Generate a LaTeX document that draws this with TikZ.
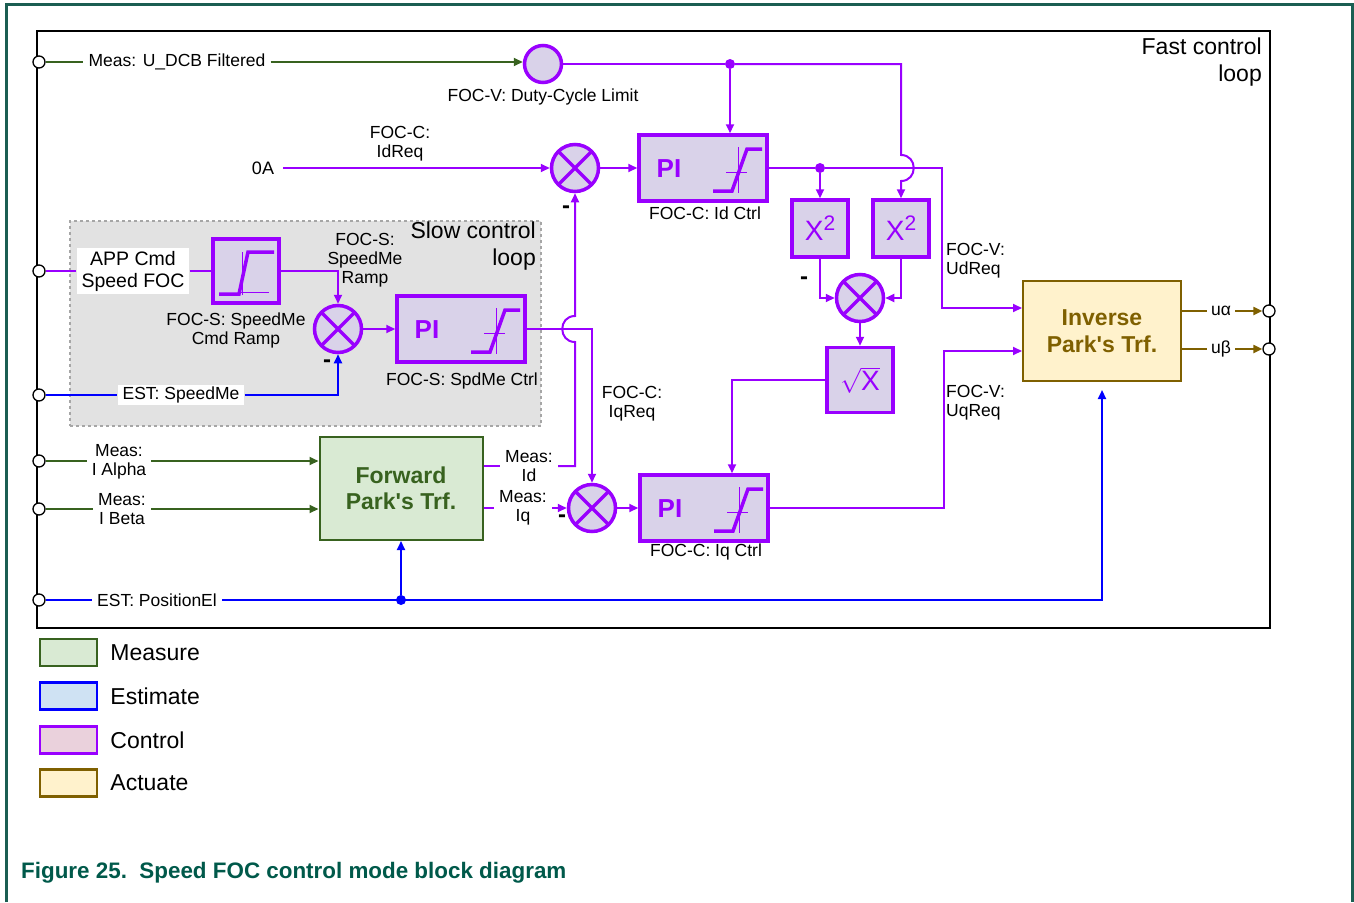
\documentclass[tikz,border=0pt]{standalone}
\usepackage{fontspec}
\setmainfont{Liberation Sans}
\newfontfamily\plainsans{Liberation Sans}
\usepackage{tikz}
\usetikzlibrary{positioning, arrows.meta, calc}

\definecolor{purp}{HTML}{9900FF}
\definecolor{lav}{HTML}{D9D2E9}
\definecolor{mgreen}{HTML}{38621F}
\definecolor{mgfill}{HTML}{D9EAD3}
\definecolor{eblue}{HTML}{0000FF}
\definecolor{ebfill}{HTML}{CFE2F3}
\definecolor{cfill}{HTML}{EAD1DC}
\definecolor{abrown}{HTML}{7F6000}
\definecolor{afill}{HTML}{FFF2CC}
\definecolor{slowgray}{HTML}{E2E2E2}
\definecolor{framet}{HTML}{1B5E52}
\definecolor{captc}{HTML}{00594A}

\newcommand\lblfont{\fontsize{17.5}{19}\selectfont}
\newcommand\appfont{\fontsize{19.5}{22}\selectfont}
\newcommand\bigfont{\fontsize{23}{26.5}\selectfont}
\newcommand\apos{{\plainsans'}}

\begin{document}
\begin{tikzpicture}[
  x=1pt, y=-1pt,
  >={Triangle[length=9pt,width=8pt]},
  lbl/.style={font=\lblfont, align=center, inner sep=3pt},
  wlbl/.style={lbl, fill=white, inner xsep=5pt, inner ysep=2pt},
  port/.style={circle, draw=black, fill=white, line width=1.3pt,
               minimum size=12pt, inner sep=0pt},
  pline/.style={draw=purp, line width=2pt},
  gline/.style={draw=mgreen, line width=2pt},
  bline/.style={draw=eblue, line width=2pt},
  aline/.style={draw=abrown, line width=2pt},
  ctrlbox/.style={draw=purp, fill=lav, line width=3.5pt, inner sep=0pt},
  multbox/.style={circle, ctrlbox, minimum size=47pt,
    path picture={\draw[purp, line width=3.5pt]
      (path picture bounding box.north west) -- (path picture bounding box.south east)
      (path picture bounding box.north east) -- (path picture bounding box.south west);}},
  pibox/.style={ctrlbox, minimum width=128pt, minimum height=66pt,
    path picture={
      \node[font=\bfseries\fontsize{26}{28}\selectfont, text=purp]
        at ($(path picture bounding box.center)+(-34,1)$) {PI};
      \begin{scope}[shift={(path picture bounding box.center)}]
        \draw[purp, line width=1pt] (35,-21) -- (35,25) (23,4) -- (44,4);
        \draw[purp, line width=3.5pt] (10,23) -- (29,23) -- (44,-19) -- (59,-19);
      \end{scope}}},
  rampbox/.style={ctrlbox, minimum width=66pt, minimum height=64pt,
    path picture={
      \begin{scope}[shift={(path picture bounding box.center)}]
        \draw[purp, line width=1pt] (-4,-19) -- (-4,24) (-7,21) -- (23,21);
        \draw[purp, line width=3.5pt] (-27,23) -- (-7,23) -- (2,-19) -- (28,-19);
      \end{scope}}},
  sqbox/.style={ctrlbox, minimum width=56pt, minimum height=57pt, text=purp,
                font=\fontsize{28}{30}\selectfont},
  apark/.style={draw=abrown, fill=afill, line width=2pt, minimum width=158pt,
                minimum height=100pt, font=\bfseries\bigfont, text=abrown, align=center},
  mpark/.style={draw=mgreen, fill=mgfill, line width=2pt, minimum width=163pt,
                minimum height=103pt, font=\bfseries\bigfont, text=mgreen, align=center},
  slowreg/.style={draw=gray!70, dashed, fill=slowgray, line width=1.5pt,
                  minimum width=471pt, minimum height=205pt},
  minus/.style={font=\bfseries\fontsize{24}{24}\selectfont, inner sep=0pt},
  pdot/.style={circle, fill=purp, inner sep=0pt, minimum size=10pt},
  bdot/.style={circle, fill=eblue, inner sep=0pt, minimum size=10pt},
  legbox/.style={line width=2.5pt, minimum width=57pt, minimum height=27pt},
  legtxt/.style={font=\bigfont, inner sep=0pt}
]
\useasboundingbox (0,0) rectangle (1354,902);
\draw[framet, line width=3pt] (6,902) -- (6,4) -- (1352,4) -- (1352,902);

% frames
\node[draw=black, line width=2pt, minimum width=1233pt, minimum height=597pt, inner sep=0pt]
  (fast) at (653.5,329.5) {};
\node[lbl, font=\bigfont, align=right, anchor=north east] (fasttxt) at (1265,35) {Fast control\\loop};
\node[slowreg] (slow) at (305.5,323.5) {};
\node[lbl, font=\bigfont, align=right, anchor=north east] (slowtxt) at (539,219) {Slow control\\loop};

% fast loop blocks
\node[port] (pU) at (39,62) {};
\node[wlbl] (lU) at (177,62) {Meas: U\_DCB Filtered};
\node[ctrlbox, circle, minimum size=37pt] (lim) at (543,64) {};
\node[lbl] (limtxt) at (543,97) {FOC-V: Duty-Cycle Limit};
\node[pdot] (dot1) at (730,64) {};
\node[lbl, font=\fontsize{18}{20}\selectfont, inner xsep=9pt] (zeroA) at (263,168) {0A};
\node[lbl] (idreqtxt) at (400,144) {FOC-C:\\IdReq};
\node[multbox] (m1) at (575,168) {};
\node[minus] (mn1) at (566,210) {-};
\node[pibox] (piid) at (703,168) {};
\node[lbl] (piidtxt) at (705,213) {FOC-C: Id Ctrl};
\node[pdot] (dot2) at (820,168) {};
\node[sqbox] (x2a) at (820,228.5) {X\raisebox{10pt}{\fontsize{21}{21}\selectfont 2}};
\node[sqbox] (x2b) at (901,228.5) {X\raisebox{10pt}{\fontsize{21}{21}\selectfont 2}};
\node[multbox] (m3) at (860,298) {};
\node[minus] (mn3) at (804,281) {-};
\node[sqbox, minimum width=66pt, minimum height=65pt] (sqrtb) at (860,380) {$\sqrt{\mbox{X}}$};
\node[lbl, align=left, anchor=west] (udtxt) at (943,261) {FOC-V:\\UdReq};
\node[lbl, align=left, anchor=west] (uqtxt) at (943,403) {FOC-V:\\UqReq};
\node[apark] (ipark) at (1102,331) {Inverse\\Park\apos s Trf.};
\node[lbl, inner xsep=4pt] (ua) at (1221,311) {uα};
\node[port] (poa) at (1269,311) {};
\node[lbl, inner xsep=4pt] (ub) at (1221,349) {uβ};
\node[port] (pob) at (1269,349) {};

% slow loop blocks
\node[port] (pApp) at (39,271) {};
\node[wlbl, font=\appfont, inner ysep=3pt] (lApp) at (133,271) {APP Cmd\\Speed FOC};
\node[rampbox] (ramp) at (246,271) {};
\node[lbl] (ramptxt) at (236,330) {FOC-S: SpeedMe\\Cmd Ramp};
\node[lbl] (srtxt) at (365,260) {FOC-S:\\SpeedMe\\Ramp};
\node[multbox] (ms) at (338,329) {};
\node[minus] (mns) at (327,364) {-};
\node[pibox] (pisp) at (461,329) {};
\node[lbl] (pisptxt) at (462,381) {FOC-S: SpdMe Ctrl};
\node[port] (pSm) at (39,395) {};
\node[wlbl] (lSm) at (181,395) {EST: SpeedMe};

% measure side
\node[port] (pIa) at (39,461) {};
\node[wlbl] (lIa) at (119,462) {Meas:\\I Alpha};
\node[port] (pIb) at (39,509) {};
\node[wlbl] (lIb) at (122,509) {Meas:\\I Beta};
\node[mpark] (fpark) at (401,488.5) {Forward\\Park\apos s Trf.};
\node[wlbl] (lId) at (529,466) {Meas:\\Id};
\node[wlbl] (lIq) at (523,508) {Meas:\\Iq};
\node[lbl] (iqreqtxt) at (632,404) {FOC-C:\\IqReq};
\node[multbox] (m2) at (592,508) {};
\node[minus] (mn2) at (562,519) {-};
\node[pibox] (piiq) at (704,508) {};
\node[lbl] (piiqtxt) at (706,552) {FOC-C: Iq Ctrl};
\node[port] (pPe) at (39,600) {};
\node[wlbl] (lPe) at (157,600) {EST: PositionEl};
\node[bdot] (bd) at (fpark.south |- lPe) {};

\coordinate (jmp1) at (m1.south |- pisp.east);
\coordinate (jmp2) at (x2b.north |- dot2);

% connectors
\draw[gline] (pU) -- (lU);
\draw[gline,->] (lU.east) -- (lU.east -| lim.west);
\draw[pline] (lim.east) -- (dot1);
\draw[pline,->] (dot1) -- (dot1 |- piid.north);
\draw[pline,->] (dot1) -- (dot1 -| x2b.north) -- ($(jmp2)+(0,-13)$)
  .. controls ($(jmp2)+(17,-13)$) and ($(jmp2)+(17,13)$) .. ($(jmp2)+(0,13)$) -- (x2b.north);
\draw[pline,->] (zeroA) -- (m1);
\draw[pline,->] (m1) -- (piid);
\draw[pline] (piid.east) -- (dot2);
\draw[pline,->] (dot2) -- (x2a);
\draw[pline,->] (dot2) -| ([xshift=-80pt,yshift=23pt]ipark.west) -- ([yshift=23pt]ipark.west);
\draw[pline,->] (x2a.south) |- (m3.west);
\draw[pline,->] (x2b.south) |- (m3.east);
\draw[pline,->] (m3) -- (sqrtb);
\draw[pline,->] (sqrtb.west) -| ([xshift=28pt]piiq.north);
\draw[pline,->] (piiq.east) -| ([xshift=-78pt,yshift=-20pt]ipark.west) -- ([yshift=-20pt]ipark.west);
\draw[aline] ([yshift=20pt]ipark.east) -- (ua);
\draw[aline,->] (ua) -- (poa);
\draw[aline] ([yshift=-18pt]ipark.east) -- (ub);
\draw[aline,->] (ub) -- (pob);

\draw[pline] (pApp) -- (lApp);
\draw[pline] (lApp) -- (ramp);
\draw[pline,->] (ramp.east) -| (ms.north);
\draw[pline,->] (ms) -- (pisp);
\draw[pline,->] (pisp.east) -| (m2.north);
\draw[bline] (pSm) -- (lSm);
\draw[bline,->] (lSm.east) -| (ms.south);

\draw[gline] (pIa) -- (pIa -| lIa.west);
\draw[gline,->] (lIa.east |- pIa) -- (pIa -| fpark.west);
\draw[gline] (pIb) -- (lIb);
\draw[gline,->] (lIb.east) -- (lIb.east -| fpark.west);
\draw[pline] (fpark.east |- lId) -- (lId);
\draw[pline,->] (lId.east) -| ($(jmp1)+(0,13)$)
  .. controls ($(jmp1)+(-17,13)$) and ($(jmp1)+(-17,-13)$) .. ($(jmp1)+(0,-13)$) -- (m1.south);
\draw[pline] (fpark.east |- lIq) -- (lIq);
\draw[pline,->] (lIq) -- (m2);
\draw[pline,->] (m2) -- (piiq);

\draw[bline] (pPe) -- (lPe);
\draw[bline,->,shorten >=8pt] (lPe.east) -| (ipark.south);
\draw[bline,->] (bd) -- (fpark.south);

% legend
\node[legbox, draw=mgreen, fill=mgfill] (legM) at (68.5,652.5) {};
\node[legtxt, right=12pt of legM] (legMt) {Measure};
\node[legbox, draw=eblue, fill=ebfill] (legE) at (68.5,696) {};
\node[legtxt, right=12pt of legE] (legEt) {Estimate};
\node[legbox, draw=purp, fill=cfill] (legC) at (68.5,740) {};
\node[legtxt, right=12pt of legC] (legCt) {Control};
\node[legbox, draw=abrown, fill=afill] (legA) at (68.5,783) {};
\node[legtxt, right=12pt of legA] (legAt) {Actuate};

\node[anchor=west, font=\bfseries\fontsize{22.4}{24}\selectfont, text=captc, inner sep=0pt]
  (capt) at (21,873) {Figure 25.\ \ Speed FOC control mode block diagram};
\end{tikzpicture}
\end{document}
